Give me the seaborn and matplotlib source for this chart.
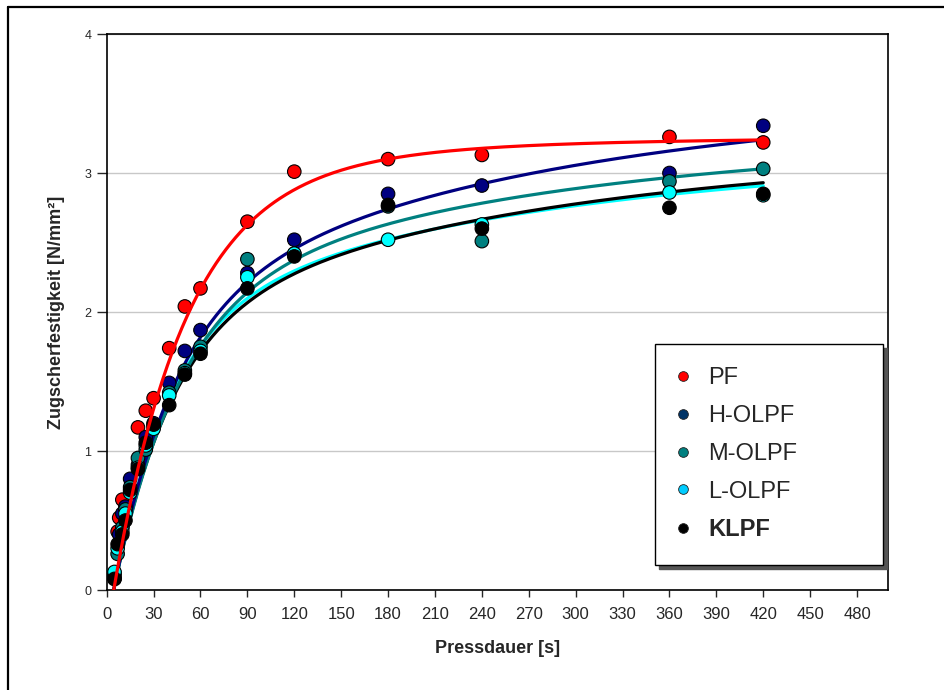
import numpy as np
import pandas as pd
import seaborn as sns
import matplotlib.pyplot as plt
from matplotlib.lines import Line2D

# Messpunkte
series = ["PF", "H-OLPF", "M-OLPF", "L-OLPF", "KLPF"]

x_pf = [5, 7, 8, 10, 20, 25, 30, 40, 50, 60, 90, 120, 180, 240, 360, 420]
y_pf = [0.08, 0.42, 0.52, 0.65, 1.17, 1.29, 1.38, 1.74, 2.04, 2.17, 2.65, 3.01, 3.10, 3.13, 3.26, 3.22]

x_h = [5, 8, 10, 12, 15, 20, 25, 30, 40, 50, 60, 90, 120, 180, 240, 360, 420]
y_h = [0.10, 0.40, 0.55, 0.60, 0.80, 0.90, 1.10, 1.20, 1.49, 1.72, 1.87, 2.28, 2.52, 2.85, 2.91, 3.00, 3.34]

x_m = [5, 7, 10, 12, 15, 20, 25, 30, 40, 50, 60, 90, 120, 180, 240, 360, 420]
y_m = [0.12, 0.26, 0.45, 0.58, 0.74, 0.95, 1.01, 1.18, 1.42, 1.58, 1.75, 2.38, 2.42, 2.76, 2.51, 2.94, 3.03]

x_l = [5, 7, 10, 12, 15, 20, 25, 30, 40, 50, 60, 90, 120, 180, 240, 360, 420]
y_l = [0.13, 0.30, 0.42, 0.55, 0.70, 0.88, 1.04, 1.16, 1.40, 1.56, 1.72, 2.25, 2.42, 2.52, 2.63, 2.86, 2.84]

x_k = [5, 7, 10, 12, 15, 20, 25, 30, 40, 50, 60, 90, 120, 180, 240, 360, 420]
y_k = [0.08, 0.33, 0.40, 0.50, 0.72, 0.87, 1.06, 1.19, 1.33, 1.55, 1.70, 2.17, 2.40, 2.77, 2.60, 2.75, 2.85]

# Regressionskurven: y = a1*(1-exp(-b1*t)) + a2*(1-exp(-b2*t)), t = x - x0
fit_a1 = [3.00, 1.975, 2.058, 1.92, 1.877]
fit_b1 = [0.0215, 0.026, 0.024, 0.028, 0.027]
fit_a2 = [0.26, 1.56, 1.2, 1.22, 1.3]
fit_b2 = [0.006, 0.004, 0.004, 0.004, 0.004]
fit_x0 = 4.5

point_colors = ["#ff0000", "#000080", "#008080", "#00ffff", "#000000"]
legend_colors = ["#ff0000", "#003366", "#008080", "#00ccff", "#000000"]

xs = [x_pf, x_h, x_m, x_l, x_k]
ys = [y_pf, y_h, y_m, y_l, y_k]
df_pts = pd.concat(
    [pd.DataFrame({"Pressdauer": x, "Festigkeit": y, "Serie": s}) for s, x, y in zip(series, xs, ys)],
    ignore_index=True,
)

t_grid = np.linspace(fit_x0, 420, 400)
fit_rows = []
for s, a1, b1, a2, b2 in zip(series, fit_a1, fit_b1, fit_a2, fit_b2):
    t = t_grid - fit_x0
    yfit = a1 * (1 - np.exp(-b1 * t)) + a2 * (1 - np.exp(-b2 * t))
    fit_rows.append(pd.DataFrame({"Pressdauer": t_grid, "Festigkeit": yfit, "Serie": s}))
df_fit = pd.concat(fit_rows, ignore_index=True)

sns.set_style("ticks")
plt.rcParams["font.family"] = ["Liberation Sans", "DejaVu Sans"]

palette = dict(zip(series, point_colors))

fig = plt.figure(figsize=(9.45, 6.9), dpi=100)
ax = fig.add_axes([0.1129, 0.1449, 0.8271, 0.8058])

# Kurven (ausser PF) unter den Punkten
line_order = ["L-OLPF", "KLPF", "M-OLPF", "H-OLPF"]
sns.lineplot(data=df_fit[df_fit["Serie"] != "PF"], x="Pressdauer", y="Festigkeit",
             hue="Serie", hue_order=line_order, palette=palette, estimator=None,
             linewidth=2.3, legend=False, ax=ax, zorder=2)

sns.scatterplot(data=df_pts, x="Pressdauer", y="Festigkeit", hue="Serie", hue_order=series,
                palette=palette, s=95, edgecolor="black", linewidth=0.8,
                legend=False, ax=ax, zorder=3)

# PF-Kurve ganz oben
sns.lineplot(data=df_fit[df_fit["Serie"] == "PF"], x="Pressdauer", y="Festigkeit",
             color=point_colors[0], estimator=None, linewidth=2.3, legend=False,
             ax=ax, zorder=4)

ax.set_xlim(0, 500)
ax.set_ylim(0, 4)
ax.set_xticks(range(0, 481, 30))
ax.set_yticks(range(0, 5))
ax.yaxis.grid(True, color="#c8c8c8", linewidth=1)
ax.set_axisbelow(True)
for sp in ax.spines.values():
    sp.set_visible(True)
    sp.set_color("black")
    sp.set_linewidth(1.2)
ax.tick_params(axis="x", labelsize=12, length=5, width=1, pad=7)
ax.tick_params(axis="y", labelsize=9, length=7, width=1, pad=4)

ax.set_xlabel("Pressdauer [s]", fontsize=13, fontweight="bold", labelpad=13)
ax.set_ylabel("Zugscherfestigkeit [N/mm²]", fontsize=13, fontweight="bold", labelpad=14)

handles = [Line2D([], [], marker="o", linestyle="none", markersize=7,
                  markerfacecolor=c, markeredgecolor="#222222", markeredgewidth=0.6)
           for c in legend_colors]
leg = ax.legend(handles, series, loc="upper left",
                bbox_to_anchor=(0.7015, 0.0468, 0.2915, 0.4424 - 0.0468), mode="expand",
                fontsize=17, frameon=True, fancybox=False, framealpha=1,
                borderpad=0.98, labelspacing=0.67, handlelength=0.4, handletextpad=0.87,
                borderaxespad=0,
                shadow={"ox": 3, "oy": -3, "facecolor": "#555555", "edgecolor": "#555555", "alpha": 1})
leg.get_frame().set_edgecolor("black")
leg.get_frame().set_linewidth(1)
leg.get_texts()[4].set_fontweight("bold")

# Rahmen um die ganze Grafik
fig.add_artist(Line2D([8 / 945, 1], [1 - 7 / 690, 1 - 7 / 690], transform=fig.transFigure,
                      color="black", linewidth=1.6))
fig.add_artist(Line2D([8 / 945, 8 / 945], [0, 1 - 7 / 690], transform=fig.transFigure,
                      color="black", linewidth=1.6))

fig.savefig("out.png", dpi=100)
plt.close(fig)
